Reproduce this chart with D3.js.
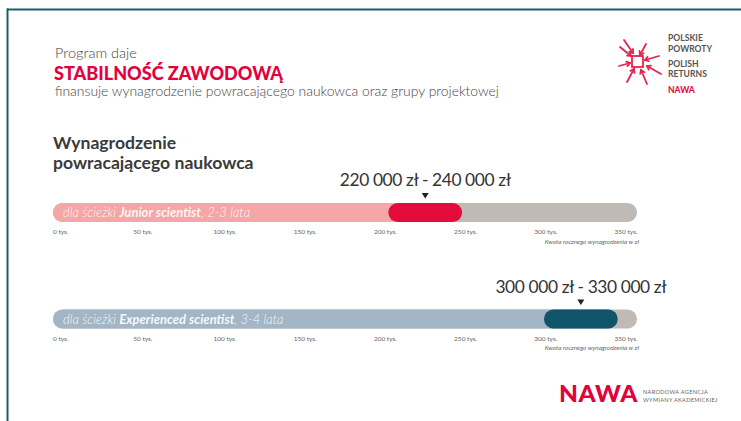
<!DOCTYPE html>
<html><head><meta charset="utf-8">
<script src="https://cdn.jsdelivr.net/npm/d3@7"></script>
<style>html,body{margin:0;padding:0;background:#fff;}svg{display:block;font-family:Lato,"Open Sans",sans-serif;}</style>
</head><body>
<svg id="c" width="741" height="421"></svg>
<script>
// ---- data ----
const tickValues = [0, 50, 100, 150, 200, 250, 300, 350];           // thousands of zł
const tickLabels = ["0 tys.", "50 tys.", "100 tys.", "150 tys.", "200 tys.", "250 tys.", "300 tys.", "350 tys."];
const axisMax = 364;                                                 // end of grey track (thousands)
const tracks = ["Junior scientist", "Experienced scientist"];
const durations = ["2-3 lata", "3-4 lata"];
const rangeLabels = ["220 000 zł  -  240 000 zł", "300 000 zł  -  330 000 zł"];
const segStart = [209, 306];                                         // highlighted segment, as drawn (thousands)
const segEnd = [255, 352];
const axisTitle = "Kwota rocznego wynagrodzenia w zł";

const lightColors = ["#f5a6a6", "#a3b6c6"];
const darkColors = ["#e30a3c", "#10546a"];
const trackColor = "#bfbab5";

const svg = d3.select("#c");
// frame
svg.append("line").attr("x1", 7).attr("x2", 741).attr("y1", 9.5).attr("y2", 9.5).attr("stroke", "#1d5c70").attr("stroke-width", 2);
svg.append("line").attr("x1", 7.5).attr("x2", 7.5).attr("y1", 8.5).attr("y2", 421).attr("stroke", "#1d5c70").attr("stroke-width", 2);

// headings
svg.append("text").attr("x", 55).attr("y", 58).attr("font-size", 14.5).attr("font-weight", 300).attr("fill", "#444").text("Program daje");
svg.append("text").attr("x", 54).attr("y", 79.5).attr("font-size", 19.5).attr("font-weight", 900).attr("fill", "#e4003b").attr("textLength", 229).attr("lengthAdjust", "spacingAndGlyphs").text("STABILNOŚĆ ZAWODOWĄ");
svg.append("text").attr("x", 55).attr("y", 96).attr("font-size", 13.9).attr("font-weight", 300).attr("fill", "#444").text("finansuje wynagrodzenie powracającego naukowca oraz grupy projektowej");
svg.append("text").attr("x", 53).attr("y", 148.5).attr("font-size", 17.6).attr("font-weight", 700).attr("fill", "#3a3a3a").text("Wynagrodzenie");
svg.append("text").attr("x", 53).attr("y", 168.5).attr("font-size", 17.6).attr("font-weight", 700).attr("fill", "#3a3a3a").text("powracającego naukowca");

// top-right logo
const lg = svg.append("g");
[["POLSKIE", 40.7, "#555"], ["POWROTY", 51.7, "#555"], ["POLISH", 67.3, "#555"], ["RETURNS", 77.3, "#555"], ["NAWA", 93.3, "#e4003b"]]
  .forEach(d => lg.append("text").attr("x", 668).attr("y", d[1]).attr("font-size", 8.6).attr("font-weight", 700).attr("fill", d[2]).text(d[0]));
const ic = svg.append("g").attr("stroke", "#e8234f").attr("stroke-width", 1.8).attr("fill", "none").attr("stroke-linecap", "round");
ic.append("rect").attr("x", 632).attr("y", 56).attr("width", 11).attr("height", 11);
const arrows = [[620, 47, 631, 56], [646, 44, 640, 55], [659, 56, 645, 60], [661, 74, 647, 66], [647, 84, 641, 70], [627, 82, 634, 69], [619, 66, 630, 63], [624, 40, 633, 53]];
arrows.forEach(a => {
  ic.append("line").attr("x1", a[0]).attr("y1", a[1]).attr("x2", a[2]).attr("y2", a[3]);
  const ang = Math.atan2(a[3] - a[1], a[2] - a[0]);
  const L = 4;
  ic.append("path").attr("d", `M${a[2] - L * Math.cos(ang - 0.6)},${a[3] - L * Math.sin(ang - 0.6)}L${a[2]},${a[3]}L${a[2] - L * Math.cos(ang + 0.6)},${a[3] - L * Math.sin(ang + 0.6)}`);
});

// scale
const x = d3.scaleLinear().domain([0, axisMax]).range([53, 637]);
const barTop = [203, 309.5];
const barH = 19;

tracks.forEach((name, i) => {
  const g = svg.append("g");
  const y0 = barTop[i];
  g.append("rect").attr("x", x(0)).attr("y", y0).attr("width", x(axisMax) - x(0)).attr("height", barH).attr("rx", barH / 2).attr("fill", trackColor);
  g.append("rect").attr("x", x(0)).attr("y", y0).attr("width", x(segEnd[i]) - x(0)).attr("height", barH).attr("rx", barH / 2).attr("fill", lightColors[i]);
  g.append("rect").attr("x", x(segStart[i])).attr("y", y0).attr("width", x(segEnd[i]) - x(segStart[i])).attr("height", barH).attr("rx", barH / 2).attr("fill", darkColors[i]);
  const t = g.append("text").attr("x", 63).attr("y", y0 + 14).attr("font-size", 13).attr("font-style", "italic").attr("fill", "#fff").attr("fill-opacity", 0.92);
  t.append("tspan").attr("font-weight", 300).text("dla ścieżki ");
  t.append("tspan").attr("font-weight", 700).text(name);
  t.append("tspan").attr("font-weight", 300).text(", " + durations[i]);

  const mid = (segStart[i] + segEnd[i]) / 2;
  const mx = x(mid);
  g.append("path").attr("d", `M${mx - 3.5},${y0 - 10}L${mx + 3.5},${y0 - 10}L${mx},${y0 - 4.5}Z`).attr("fill", "#222");
  g.append("text").attr("x", mx).attr("y", y0 - 17).attr("text-anchor", "middle").attr("font-size", 17.4).attr("font-weight", 400).attr("fill", "#333").attr("letter-spacing", -0.4).text(rangeLabels[i]);

  const ax = g.append("g").attr("transform", `translate(0,${y0 + barH + 12})`);
  ax.selectAll("text").data(tickValues).join("text")
    .attr("x", d => x(d)).attr("y", 0).attr("font-size", 6.5).attr("fill", "#666").text((d, j) => tickLabels[j]);
  g.append("text").attr("x", 639).attr("y", y0 + barH + 21.5).attr("text-anchor", "end").attr("font-size", 6.3).attr("font-style", "italic").attr("fill", "#666").text(axisTitle);
});

// bottom logo
svg.append("text").attr("x", 559).attr("y", 402).attr("font-size", 23).attr("font-weight", 900).attr("fill", "#e4003b").attr("letter-spacing", 0.5).attr("textLength", 79).attr("lengthAdjust", "spacingAndGlyphs").text("NAWA");
svg.append("text").attr("x", 643).attr("y", 394).attr("font-size", 5.6).attr("fill", "#666").attr("letter-spacing", 0.3).text("NARODOWA AGENCJA");
svg.append("text").attr("x", 643).attr("y", 402).attr("font-size", 5.6).attr("fill", "#666").attr("letter-spacing", 0.3).text("WYMIANY AKADEMICKIEJ");
</script>
</body></html>
